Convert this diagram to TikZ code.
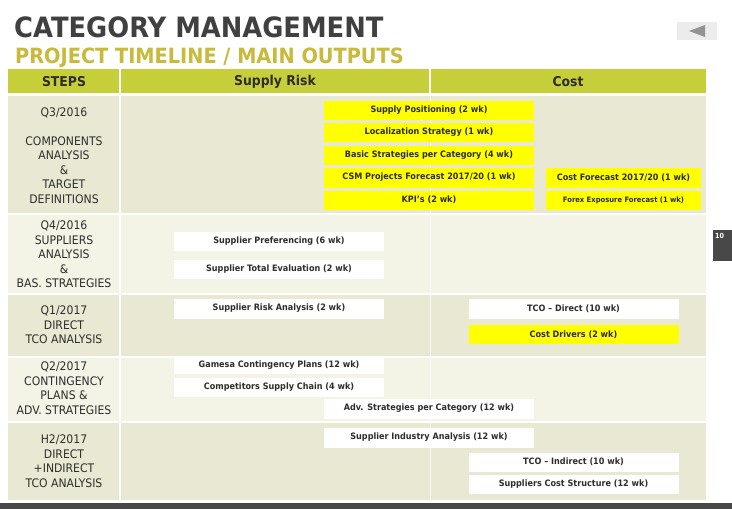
\documentclass[tikz,border=0pt]{standalone}
\usepackage{fontspec}
\setmainfont{DejaVu Sans}[FakeStretch=0.92]
\usetikzlibrary{positioning}
\definecolor{titlegray}{RGB}{64,64,64}
\definecolor{subolive}{RGB}{200,186,58}
\definecolor{headolive}{RGB}{198,206,58}
\definecolor{banddark}{RGB}{233,233,211}
\definecolor{bandlight}{RGB}{243,243,230}
\definecolor{hiyellow}{RGB}{255,255,0}
\definecolor{txtdark}{RGB}{45,45,45}
\definecolor{footgray}{RGB}{72,72,72}

\begin{document}
\begin{tikzpicture}[x=1pt,y=-1pt,
  task/.style={minimum width=210pt,minimum height=19pt,inner sep=0pt,
    font=\fontsize{8.8}{10}\selectfont\bfseries,text=txtdark},
  hot/.style={task,fill=hiyellow},
  plain/.style={task,fill=white},
  steptxt/.style={align=center,text=txtdark,
    font=\fontsize{11.8}{14.5}\selectfont},
  headtxt/.style={text=txtdark,font=\fontsize{13.5}{15}\selectfont\bfseries}]
  \useasboundingbox (0,0) rectangle (732,509);
  \fill[white] (0,0) rectangle (732,509);

  % titles
  \node[anchor=base west,inner sep=0pt,text=titlegray,
    font=\fontsize{28}{30}\selectfont\bfseries] (title) at (14,37.5) {CATEGORY MANAGEMENT};
  \node[anchor=base west,inner sep=0pt,text=subolive,
    font=\fontsize{21}{24}\selectfont\bfseries] (subtitle) at (15,63) {PROJECT TIMELINE / MAIN OUTPUTS};

  % back button
  \fill[gray!15] (677,22) rectangle (717,40);
  \fill[gray!85] (689,31) -- (705,25) -- (705,37) -- cycle;

  % header row
  \fill[headolive] (8,69) rectangle (706,93);
  \draw[white,line width=1.2pt] (120,69) -- (120,93) (430,69) -- (430,93);
  \node[headtxt] (hsteps) at (64,82) {STEPS};
  \node[headtxt] (hrisk) at (275,82) {Supply Risk};
  \node[headtxt] (hcost) at (568,82) {Cost};

  % bands
  \fill[banddark]  (8,96)  rectangle (706,213);
  \fill[bandlight] (8,215) rectangle (706,293);
  \fill[banddark]  (8,295) rectangle (706,356);
  \fill[bandlight] (8,358) rectangle (706,421);
  \fill[banddark]  (8,423) rectangle (706,500);
  \draw[white,line width=1.5pt] (120,96) -- (120,500);
  \draw[white!70!banddark,line width=0.8pt] (430,96) -- (430,500);

  % steps column
  \node[steptxt] (s1) at (64,155.5) {Q3/2016\\[14.5pt]COMPONENTS\\ANALYSIS\\\&\\TARGET\\DEFINITIONS};
  \node[steptxt] (s2) at (64,254.5) {Q4/2016\\SUPPLIERS\\ANALYSIS\\\&\\BAS. STRATEGIES};
  \node[steptxt] (s3) at (64,325) {Q1/2017\\DIRECT\\TCO ANALYSIS};
  \node[steptxt] (s4) at (64,388) {Q2/2017\\CONTINGENCY\\PLANS \&\\ADV. STRATEGIES};
  \node[steptxt] (s5) at (64,461) {H2/2017\\DIRECT\\+INDIRECT\\TCO ANALYSIS};

  % Q3/2016 outputs
  \node[hot] (supplypos) at (429,110) {Supply Positioning (2 wk)};
  \node[hot] (localiz) at (429,132.5) {Localization Strategy (1 wk)};
  \node[hot] (basicstr) at (429,155) {Basic Strategies per Category (4 wk)};
  \node[hot,minimum height=20pt] (csmfore) at (429,177.5) {CSM Projects Forecast 2017/20 (1 wk)};
  \node[hot] (kpis) at (429,200) {KPI's (2 wk)};
  \node[hot,minimum width=155pt,minimum height=20pt] (costfore) at (623.5,177.5) {Cost Forecast 2017/20 (1 wk)};
  \node[hot,minimum width=155pt,font=\fontsize{7.4}{9}\selectfont\bfseries] (forex) at (623.5,200) {Forex Exposure Forecast (1 wk)};

  % Q4/2016 outputs
  \node[plain] (suppref) at (279,241) {Supplier Preferencing (6 wk)};
  \node[plain] (supteval) at (279,269) {Supplier Total Evaluation (2 wk)};

  % Q1/2017 outputs
  \node[plain,minimum height=20pt] (suprisk) at (279,308.5) {Supplier Risk Analysis (2 wk)};
  \node[plain,minimum height=20pt] (tcodir) at (573.5,308.5) {TCO -- Direct (10 wk)};
  \node[hot] (costdrv) at (573.5,334.5) {Cost Drivers (2 wk)};

  % Q2/2017 outputs
  \node[plain,minimum height=17pt] (gamesa) at (279,365.5) {Gamesa Contingency Plans (12 wk)};
  \node[plain] (competit) at (279,387) {Competitors Supply Chain (4 wk)};
  \node[plain,minimum height=20pt] (advstr) at (429,408.5) {Adv. Strategies per Category (12 wk)};

  % H2/2017 outputs
  \node[plain,minimum height=20pt] (supind) at (429,437.5) {Supplier Industry Analysis (12 wk)};
  \node[plain] (tcoind) at (573.5,462) {TCO -- Indirect (10 wk)};
  \node[plain] (supcost) at (573.5,484) {Suppliers Cost Structure (12 wk)};

  % page tab and footer
  \fill[footgray] (713,230) rectangle (732,261);
  \node[anchor=north west,inner sep=0pt,text=white,
    font=\fontsize{7}{8}\selectfont\bfseries] (pagenum) at (715,233) {10};
  \fill[footgray] (0,503) rectangle (732,509);
\end{tikzpicture}
\end{document}
